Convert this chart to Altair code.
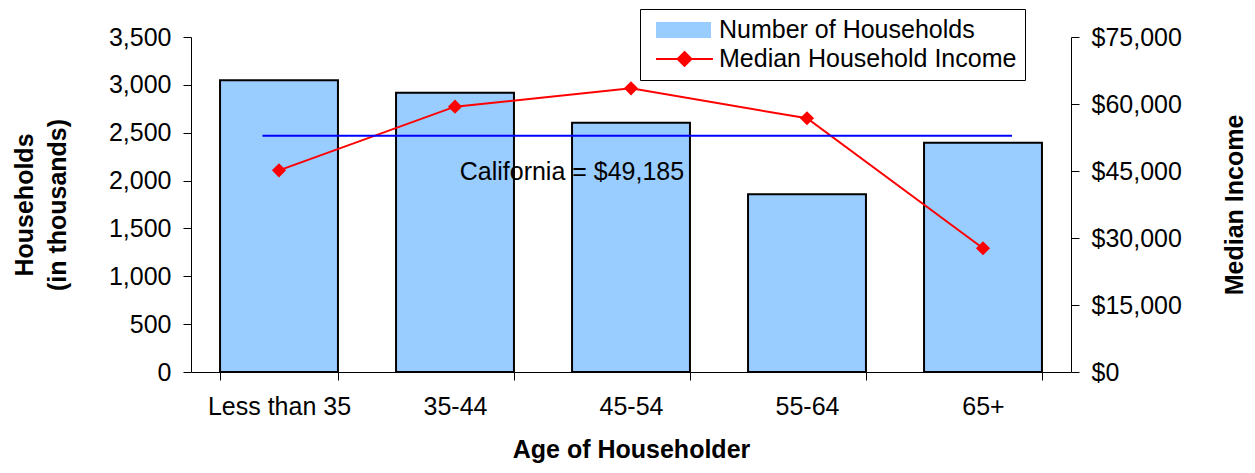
import altair as alt
import pandas as pd

# ---- data ----
ages = ["Less than 35", "35-44", "45-54", "55-64", "65+"]
households = [3048, 2918, 2605, 1856, 2396]          # thousands (left axis)
income = [45150, 59400, 63500, 56800, 27700]         # dollars (right axis)
series = ["Number of Households", "Median Household Income"]
state_label = "California = $49,185"
state_line_value = 52900      # level at which the reference line is drawn (right axis)
state_text_value = 44800      # level of the label (right axis)

bars_df = pd.DataFrame({"age": ages, "households": households, "series": series[0]})
line_df = pd.DataFrame({"age": ages, "income": income, "series": series[1]})
ref_df = pd.DataFrame({"start": [ages[0]], "end": [ages[-1]], "value": [state_line_value]})
txt_df = pd.DataFrame({"age": [ages[1]], "value": [state_text_value], "label": [state_label]})

FONT = "Liberation Sans"
FS = 25
BAR_FILL = "#99CCFF"

x_scale = alt.Scale(domain=ages, paddingInner=0.33, paddingOuter=0.165)
x_axis = alt.Axis(
    title="Age of Householder", tickBand="extent", labelAngle=0,
    labelFontSize=FS, titleFontSize=FS, titleFontWeight="bold",
    tickSize=8, labelPadding=14, titlePadding=18,
    domainColor="black", tickColor="black", labelColor="black", titleColor="black",
)
color_scale = alt.Scale(domain=series, range=[BAR_FILL, "#FF0000"])

rect_path = "M-0.33,-0.58H4.08V0.58H-0.33Z"
line_path = "M-0.42,0H4.33M1.96,-0.58L2.54,0L1.96,0.58L1.38,0Z"
is_bar = f"datum.value === '{series[0]}'"
legend = alt.Legend(
    title=None, orient="none", legendX=449, legendY=-28,
    labelFontSize=FS, labelFont=FONT, labelColor="black", labelOffset=45,
    symbolSize=576, rowPadding=3, padding=8, strokeColor="black",
    labelLimit=400, symbolStrokeWidth=2, symbolOpacity=1,
    symbolType={"expr": f"{is_bar} ? '{rect_path}' : '{line_path}'"},
    symbolFillColor={"expr": f"{is_bar} ? '{BAR_FILL}' : '#FF0000'"},
    symbolStrokeColor={"expr": f"{is_bar} ? '#000000' : '#FF0000'"},
)

left_axis = alt.Axis(
    title=["Households", "(in thousands)"], values=list(range(0, 3501, 500)), format=",.0f",
    grid=False, tickSize=8, labelPadding=12, labelFontSize=FS, titleFontSize=FS,
    titleFontWeight="bold", titleAngle=270, titlePadding=38, titleLineHeight=33,
    domainColor="black", tickColor="black", labelColor="black", titleColor="black",
)
right_axis = alt.Axis(
    title="Median Income", orient="right", values=list(range(0, 75001, 15000)), format="$,.0f",
    grid=False, tickSize=8, labelPadding=12, labelFontSize=FS, titleFontSize=FS,
    titleFontWeight="bold", titleAngle=270, titlePadding=66,
    domainColor="black", tickColor="black", labelColor="black", titleColor="black",
)
inc_scale = alt.Scale(domain=[0, 75000])

bars = alt.Chart(bars_df).mark_bar(
    fill=BAR_FILL, stroke="#000000", strokeWidth=2, strokeOpacity=1, fillOpacity=1
).encode(
    x=alt.X("age:N", scale=x_scale, axis=x_axis, sort=ages),
    y=alt.Y("households:Q", scale=alt.Scale(domain=[0, 3500]), axis=left_axis),
)

line = alt.Chart(line_df).mark_line(
    color="#FF0000", strokeWidth=2,
    point=alt.OverlayMarkDef(shape="diamond", size=200, filled=True, color="#FF0000"),
).encode(
    x=alt.X("age:N", scale=x_scale, axis=x_axis, sort=ages),
    y=alt.Y("income:Q", scale=inc_scale, axis=right_axis),
    color=alt.Color("series:N", scale=color_scale, legend=legend),
)

rule = alt.Chart(ref_df).mark_rule(color="#0000FF", strokeWidth=2).encode(
    x=alt.X("start:N", scale=x_scale, axis=x_axis, bandPosition=0.36),
    x2=alt.X2("end:N", bandPosition=0.746),
    y=alt.Y("value:Q", scale=inc_scale, axis=right_axis),
)

text = alt.Chart(txt_df).mark_text(
    align="left", baseline="middle", fontSize=FS, font=FONT, color="black"
).encode(
    x=alt.X("age:N", scale=x_scale, axis=x_axis, bandPosition=0.54),
    y=alt.Y("value:Q", scale=inc_scale, axis=right_axis),
    text="label:N",
)

right = alt.layer(line, rule, text)

chart = alt.layer(bars, right).resolve_scale(y="independent").properties(
    width=880, height=335,
    autosize=alt.AutoSizeParams(type="none"),
    padding={"left": 183, "top": 29, "right": 176, "bottom": 93},
).configure(font=FONT).configure_view(stroke=None)

chart.save("out.html", embed_options={"renderer": "svg", "actions": False})
